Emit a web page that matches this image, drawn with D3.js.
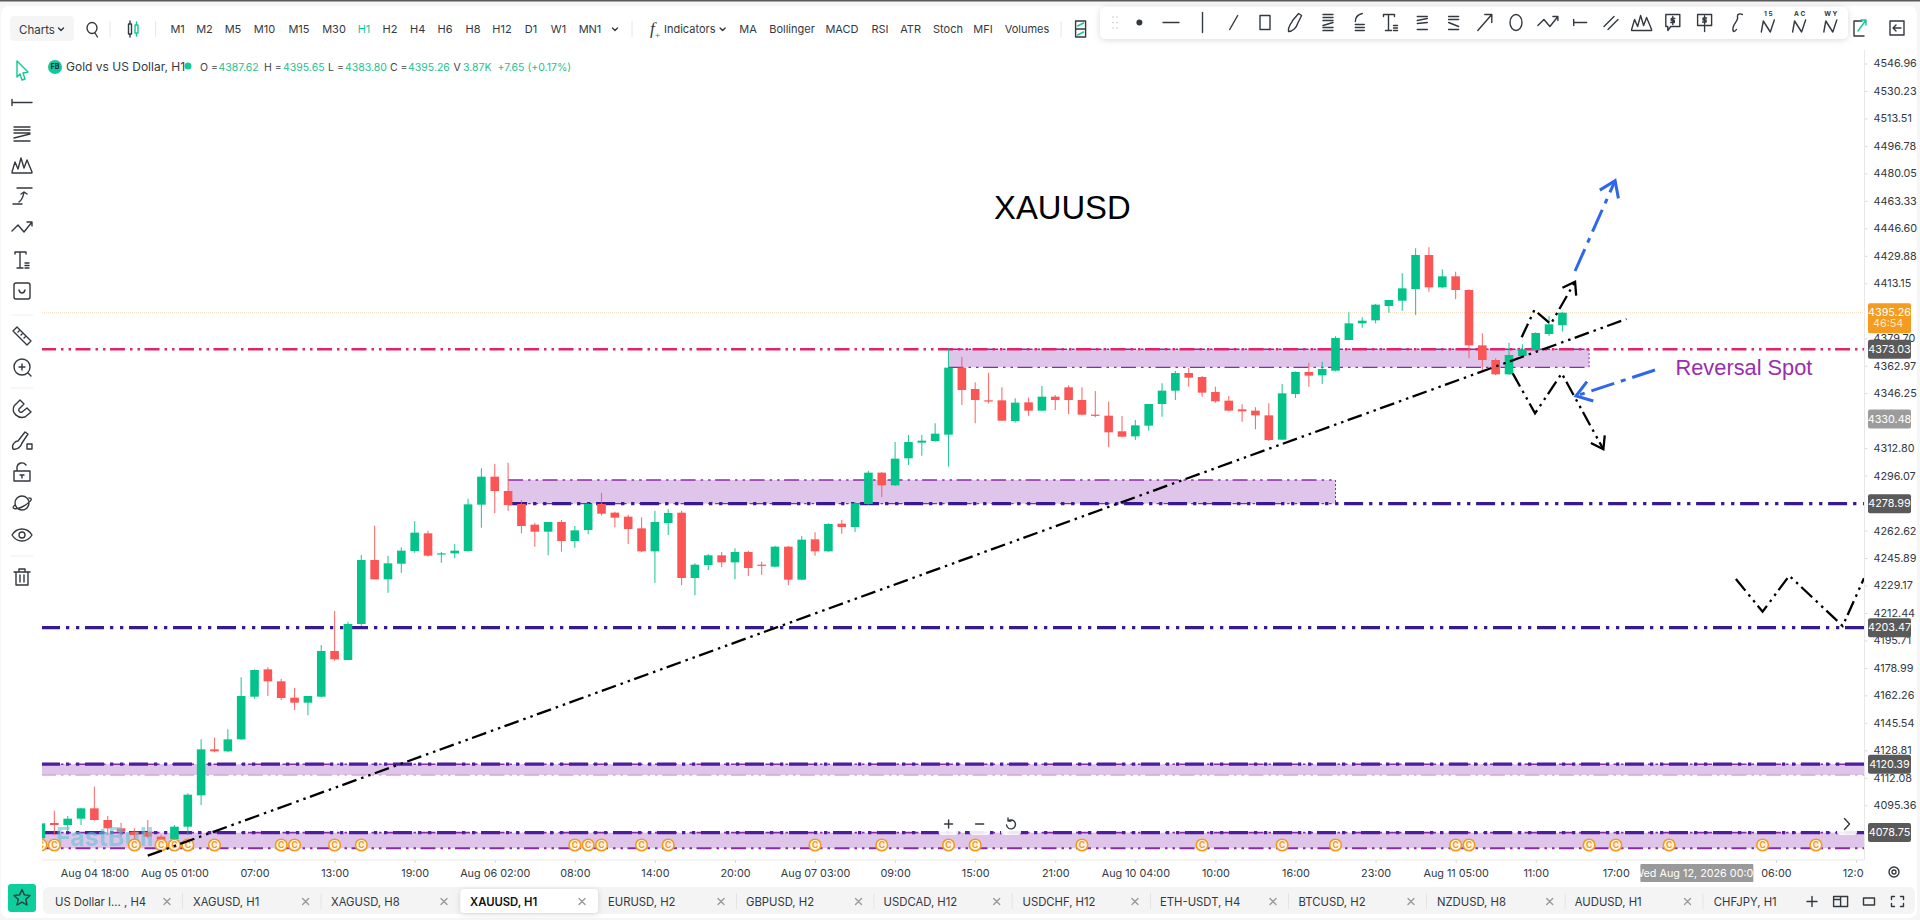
<!DOCTYPE html>
<html>
<head>
<meta charset="utf-8">
<title>XAUUSD H1</title>
<script src="https://cdn.jsdelivr.net/npm/d3@7"></script>
<style>
html, body { margin: 0; padding: 0; background: #fff; overflow: hidden; }
text { font-family: Inter, "Open Sans", sans-serif; }
.ui-icon { fill: none; stroke: #33393f; stroke-width: 1.4; stroke-linejoin: round; stroke-linecap: round; }
</style>
</head>
<body>
<svg id="chart" width="1920" height="920"></svg>
<script>
// --- CANDLES (hourly) ---
const candleOpen = [4075.25,4084.58,4083.37,4087.22,4093.51,4086.41,4081.34,4079.31,4079.10,4076.26,
4074.84,4082.35,4101.43,4129.43,4128.21,4135.52,4161.49,4178.13,4170.83,4160.89,
4157.84,4161.49,4189.30,4183.82,4205.73,4244.70,4232.93,4242.46,4250.17,4260.93,
4248.35,4248.75,4250.17,4278.38,4295.43,4286.70,4278.79,4266.21,4261.94,4267.83,
4256.26,4262.96,4278.79,4273.51,4271.08,4263.97,4249.97,4267.22,4273.51,4233.74,
4241.65,4247.54,4243.27,4249.57,4241.85,4240.64,4252.81,4232.72,4257.28,4249.97,
4266.81,4264.79,4278.79,4297.86,4290.15,4306.59,4316.13,4317.14,4321.00,4361.79,
4348.80,4341.90,4341.90,4329.32,4340.68,4335.61,4344.13,4349.81,4342.10,4333.17,
4332.56,4323.03,4319.98,4326.48,4339.67,4347.78,4358.54,4356.10,4346.97,4341.70,
4336.42,4335.61,4332.77,4317.95,4345.76,4359.15,4357.12,4359.96,4378.63,4388.77,
4390.60,4399.33,4402.57,4409.68,4430.37,4410.69,4417.39,4409.07,4375.38,4366.45,
4357.73,4368.89,4372.54,4382.28,4387.62];
const candleHigh = [4084.38,4092.09,4088.85,4093.92,4106.70,4088.85,4084.79,4081.34,4086.41,4077.28,
4083.37,4102.64,4135.52,4136.53,4141.61,4173.26,4178.13,4179.35,4172.45,4166.77,
4161.90,4192.95,4213.65,4207.15,4247.74,4265.60,4247.33,4252.41,4268.24,4262.55,
4249.57,4254.44,4282.03,4300.50,4303.14,4303.95,4281.22,4267.42,4267.83,4269.05,
4265.39,4279.60,4285.69,4274.12,4272.29,4270.67,4274.73,4275.54,4274.73,4242.67,
4248.35,4249.57,4251.80,4250.38,4243.68,4253.42,4253.22,4259.31,4261.54,4267.02,
4269.05,4280.01,4299.08,4298.27,4316.53,4320.79,4320.79,4327.90,4373.56,4368.48,
4352.86,4358.74,4349.81,4343.12,4343.52,4350.63,4345.15,4351.03,4349.81,4347.58,
4341.09,4332.36,4329.93,4339.67,4352.25,4359.76,4361.79,4356.71,4350.22,4344.54,
4339.46,4337.64,4340.07,4351.84,4359.55,4364.83,4365.44,4381.00,4395.47,4392.43,
4400.54,4402.98,4419.21,4434.43,4435.04,4421.65,4420.23,4409.47,4382.69,4367.47,
4377.00,4375.99,4383.30,4393.24,4395.65];
const candleLow = [4075.25,4077.28,4079.31,4083.37,4086.00,4077.28,4076.26,4074.23,4075.25,4071.19,
4074.23,4077.28,4095.54,4127.60,4127.81,4135.11,4160.28,4161.90,4159.46,4153.38,
4150.13,4161.09,4183.41,4183.61,4204.52,4232.93,4224.81,4236.98,4249.16,4246.72,
4243.07,4245.71,4249.77,4264.38,4273.11,4274.73,4260.93,4252.81,4247.54,4249.77,
4252.20,4260.32,4271.68,4264.58,4254.44,4249.36,4230.90,4259.91,4229.27,4223.18,
4238.61,4240.43,4232.93,4234.95,4235.77,4240.23,4229.27,4232.32,4247.33,4249.77,
4260.73,4261.74,4278.38,4282.85,4289.75,4302.53,4308.21,4316.74,4301.52,4339.06,
4327.90,4340.07,4329.32,4328.30,4332.56,4335.41,4336.01,4333.58,4332.77,4331.55,
4313.29,4319.37,4317.75,4323.43,4331.96,4342.10,4350.22,4344.13,4340.48,4335.41,
4328.91,4324.24,4317.14,4317.75,4343.32,4350.22,4351.84,4359.50,4378.42,4386.14,
4388.77,4395.27,4396.49,4393.85,4408.05,4410.08,4403.39,4367.47,4359.35,4357.12,
4357.32,4368.48,4372.13,4381.06,4383.80];
const candleClose = [4084.38,4083.37,4087.22,4093.51,4086.41,4081.34,4079.31,4077.28,4076.26,4073.22,
4082.35,4101.83,4129.43,4128.21,4135.52,4161.90,4177.73,4170.83,4160.68,4157.84,
4161.90,4189.30,4184.22,4205.73,4244.70,4232.93,4242.67,4250.38,4261.34,4247.33,
4248.75,4250.38,4278.58,4295.43,4286.70,4278.18,4265.39,4261.94,4267.83,4256.26,
4262.76,4278.79,4272.90,4270.47,4263.57,4249.97,4267.83,4273.31,4233.74,4241.85,
4247.54,4243.27,4249.57,4239.82,4241.25,4252.81,4232.72,4257.07,4249.97,4266.61,
4264.79,4279.19,4297.86,4290.15,4306.39,4316.53,4317.35,4321.61,4361.79,4348.19,
4342.10,4341.29,4329.52,4340.48,4335.61,4344.13,4342.10,4342.10,4333.17,4332.56,
4322.42,4319.78,4326.68,4339.67,4347.78,4358.54,4355.70,4346.57,4341.29,4335.61,
4335.20,4332.77,4317.75,4346.16,4359.15,4356.92,4360.98,4379.85,4388.77,4390.40,
4400.14,4402.98,4410.08,4430.37,4410.69,4417.39,4409.07,4375.38,4366.45,4357.73,
4369.50,4372.95,4382.89,4388.17,4395.26];

// --- AXES ---
const priceTicks = [4546.96,4530.23,4513.51,4496.78,4480.05,4463.33,4446.60,4429.88,4413.15,4379.70,4362.97,4346.25,4312.80,
4296.07,4262.62,4245.89,4229.17,4212.44,4195.71,4178.99,4162.26,4145.54,4128.81,4112.08,4095.36];
const timeTickIndex = [4,10,16,22,28,34,40,46,52,58,64,70,76,82,88,94,100,106,112,118,130,136];
const timeTickLabels = ['Aug 04 18:00','Aug 05 01:00','07:00','13:00','19:00','Aug 06 02:00','08:00','14:00','20:00',
'Aug 07 03:00','09:00','15:00','21:00','Aug 10 04:00','10:00','16:00','23:00','Aug 11 05:00','11:00','17:00','06:00','12:00'];
const crosshairIndex = 124;

// --- LEVELS AND ZONES ---
const pinkLevel = 4373.03;
const navyLevels = [4278.99, 4203.47];
const zoneLevels = [4120.39, 4078.75];
const lastPrice = 4395.26;
const greyTag = 4330.48;
const darkTags = [4373.03, 4278.99, 4203.47, 4120.39, 4078.75];
const zoneStart = [68, 35, 0, 0];
const zoneEnd = [116, 97, 137, 137];
const zoneTop = [4373.03, 4293.40, 4120.39, 4078.75];
const zoneBottom = [4362.00, 4278.99, 4113.80, 4069.20];
const eventIndex = [0,1,7,9,10,11,13,18,19,22,24,40,41,42,45,47,58,63,68,70,78,87,93,97,106,107,116,118,122,129,133];

// --- DRAWINGS: [bar index, price] ---
const trendPoints = [[8,4064.7],[118.8,4391.4]];
const upZig = [[110.95,4380.25],[111.9,4396.89],[113.13,4388.37],[114.95,4414.14]];
const downZig = [[110.28,4358.33],[111.95,4333.98],[113.95,4358.33],[117.07,4312.07]];
const blueUp = [[114.95,4420.63],[117.95,4475.63]];
const blueLeft = [[120.94,4360.37],[115.02,4344.54]];
const lowZig = [[127,4233.13],[129,4213.22],[131,4235.14],[135,4204.52],[136.6,4233.56]];

// --- UI TEXT ---
const timeframes = ['M1','M2','M5','M10','M15','M30','H1','H2','H4','H6','H8','H12','D1','W1','MN1'];
const timeframeX = [177.6,204.5,233,264.5,299,334,364,390,417.6,445,473,502,531,558.5,590];
const studies = ['MA','Bollinger','MACD','RSI','ATR','Stoch','MFI','Volumes'];
const studyX = [748,792,842,880,910.6,948,983,1027];
const tabs = ['US Dollar I... , H4','XAGUSD, H1','XAGUSD, H8','XAUUSD, H1','EURUSD, H2','GBPUSD, H2','USDCAD, H12','USDCHF, H12','ETH-USDT, H4','BTCUSD, H2','NZDUSD, H8','AUDUSD, H1','CHFJPY, H1'];
const tabX = [55,193,331,470,608,746,883.6,1022.5,1160,1298.6,1437,1574.8,1713.8];
const tabCloseX = [167,305.6,444,582,721,858.5,996.7,1135,1273,1411,1549.7,1687.5];

// --- SETUP ---
const svg = d3.select('#chart');
const xScale = d3.scaleLinear().domain([0, 136]).range([41, 1856]);
const yScale = d3.scaleLinear().domain([4546.96, 4095.36]).range([63.5, 805.3]);
const plot = { left: 42, right: 1864, top: 46, bottom: 860 };
const green = '#05c28a', red = '#fb5656', navy = '#38198f', pink = '#e1246a', purple = '#8a2bab', zoneFill = '#e0c5ea';
const dashDotDot = '15,5,2.5,5,2.5,4.5';
const thickDash = '19,6,3.3,6.7,3.3,5.7';

const defs = svg.append('defs');
defs.append('clipPath').attr('id', 'plot-clip').append('rect')
    .attr('x', plot.left).attr('y', plot.top).attr('width', plot.right - plot.left).attr('height', plot.bottom - plot.top);
const shadow = defs.append('filter').attr('id', 'soft').attr('x', '-5%').attr('y', '-30%').attr('width', '110%').attr('height', '170%');
shadow.append('feDropShadow').attr('dx', 0).attr('dy', 1).attr('stdDeviation', 3).attr('flood-color', '#000').attr('flood-opacity', 0.15);

function label(g, x, y, str, size, color, anchor, weight) {
    return g.append('text').attr('x', x).attr('y', y).attr('dy', '0.35em').text(str)
        .attr('font-size', size).attr('fill', color || '#33393f').attr('text-anchor', anchor || 'start').attr('font-weight', weight || 400);
}
function icon(g, x, y, d, color) {
    return g.append('path').attr('class', 'ui-icon').attr('transform', `translate(${x},${y})`).attr('d', d).style('stroke', color || null);
}

// --- PAGE FRAME ---
svg.append('rect').attr('width', 1920).attr('height', 920).attr('fill', '#f6f6f6');
svg.append('rect').attr('width', 1920).attr('height', 1.5).attr('fill', '#5a5a5a');
svg.append('rect').attr('x', 1).attr('y', 6).attr('width', 1916).attr('height', 912).attr('rx', 8).attr('fill', '#fff');

// --- PLOT ---
const plotArea = svg.append('g').attr('clip-path', 'url(#plot-clip)');
const priceLine = d3.line().x(d => xScale(d[0])).y(d => yScale(d[1]));

plotArea.append('line').attr('x1', plot.left).attr('x2', plot.right).attr('y1', yScale(lastPrice)).attr('y2', yScale(lastPrice))
    .attr('stroke', '#fbdcc0').attr('stroke-width', 1).attr('stroke-dasharray', '1,1');

zoneStart.forEach((s, i) => {
    const x0 = xScale(s), x1 = xScale(zoneEnd[i]);
    const y0 = yScale(zoneTop[i]), y1 = yScale(zoneBottom[i]);
    plotArea.append('rect').attr('x', x0).attr('y', y0).attr('width', x1 - x0).attr('height', y1 - y0).attr('fill', zoneFill);
    plotArea.append('line').attr('x1', x1).attr('x2', x1).attr('y1', y0).attr('y2', y1).attr('stroke', purple).attr('stroke-width', 1).attr('stroke-dasharray', '2,2');
    plotArea.append('line').attr('x1', x0).attr('x2', x1).attr('y1', y0).attr('y2', y0).attr('stroke', purple).attr('stroke-width', 1.6).attr('stroke-dasharray', dashDotDot);
    plotArea.append('line').attr('x1', x0).attr('x2', x1).attr('y1', y1).attr('y2', y1)
        .attr('stroke', i === 2 ? '#cfa9e0' : purple).attr('stroke-width', i === 3 ? 2 : 1.3).attr('stroke-dasharray', dashDotDot);
});

function level(price, start, color, width, dash) {
    plotArea.append('line').attr('x1', xScale(start)).attr('x2', plot.right).attr('y1', yScale(price)).attr('y2', yScale(price))
        .attr('stroke', color).attr('stroke-width', width).attr('stroke-dasharray', dash);
}
level(navyLevels[0], 35, navy, 3.2, thickDash);
level(navyLevels[1], 0, navy, 3.2, thickDash);
zoneLevels.forEach(p => level(p, 0, '#4c1d9c', 3.2, thickDash));
level(pinkLevel, 0, pink, 2.6, dashDotDot);

// candles
const candles = candleOpen.map((o, i) => ({ i, o, h: candleHigh[i], l: candleLow[i], c: candleClose[i] }));
const candleG = plotArea.append('g').selectAll('g').data(candles).join('g');
candleG.append('line').attr('x1', d => xScale(d.i)).attr('x2', d => xScale(d.i))
    .attr('y1', d => yScale(d.h)).attr('y2', d => yScale(d.l))
    .attr('stroke', d => d.c >= d.o ? green : red).attr('stroke-width', 1.1).attr('opacity', 0.85);
candleG.append('rect').attr('x', d => xScale(d.i) - 4.3).attr('width', 8.6)
    .attr('y', d => yScale(Math.max(d.o, d.c)))
    .attr('height', d => Math.max(1.2, Math.abs(yScale(d.o) - yScale(d.c))))
    .attr('fill', d => d.c >= d.o ? green : red);

// watermark
plotArea.append('text').attr('x', 56).attr('y', 846).text('FastBull')
    .attr('font-size', 25).attr('font-weight', 700).attr('fill', '#5fc6d6').attr('opacity', 0.6);

// event markers
const events = plotArea.append('g').selectAll('g').data(eventIndex).join('g')
    .attr('transform', d => `translate(${xScale(d)},845)`);
events.append('circle').attr('r', 5.8).attr('fill', '#fff6e6').attr('stroke', '#f29a1f').attr('stroke-width', 1.6);
events.append('text').text('C').attr('text-anchor', 'middle').attr('dy', '0.36em').attr('font-size', 8.5).attr('font-weight', 700).attr('fill', '#f29a1f');

// drawings
function drawing(points, color, width, dash) {
    plotArea.append('path').attr('d', priceLine(points)).attr('fill', 'none')
        .attr('stroke', color).attr('stroke-width', width).attr('stroke-dasharray', dash);
}
function arrowHead(points, color, width, len) {
    const a = points[points.length - 2], b = points[points.length - 1];
    const bx = xScale(b[0]), by = yScale(b[1]);
    const ang = Math.atan2(by - yScale(a[1]), bx - xScale(a[0]));
    const barb = s => [bx - len * Math.cos(ang + s), by - len * Math.sin(ang + s)];
    const p1 = barb(0.6), p2 = barb(-0.6);
    plotArea.append('path').attr('d', `M${p1[0]},${p1[1]} L${bx},${by} L${p2[0]},${p2[1]}`)
        .attr('fill', 'none').attr('stroke', color).attr('stroke-width', width);
}
drawing(trendPoints, '#000', 2.3, dashDotDot);
[upZig, downZig].forEach(z => { drawing(z, '#000', 2.3, dashDotDot); arrowHead(z, '#000', 2.3, 14); });
drawing(lowZig, '#000', 2.3, dashDotDot);
[blueUp, blueLeft].forEach(z => { drawing(z, '#2f66ee', 3, '24,7,5,7'); arrowHead(z, '#2f66ee', 3, 18); });

// annotations
svg.append('text').attr('x', 994).attr('y', 219).text('XAUUSD')
    .style('font-family', '"Liberation Sans", Arial, sans-serif').attr('font-size', 32.8).attr('fill', '#000');
svg.append('text').attr('x', 1675.5).attr('y', 375).text('Reversal Spot')
    .style('font-family', '"Liberation Sans", Arial, sans-serif').attr('font-size', 21.8).attr('fill', '#9a2db0');

// --- PRICE AXIS ---
const priceAxis = svg.append('g').attr('transform', `translate(${plot.right + 0.5},0)`)
    .call(d3.axisRight(yScale).tickValues(priceTicks).tickFormat(d3.format('.2f')).tickSize(3).tickPadding(6));
priceAxis.select('.domain').remove();
priceAxis.selectAll('line').attr('stroke', '#d8d8d8');
priceAxis.selectAll('text').attr('font-size', 10.8).attr('fill', '#33393f').style('font-family', 'Inter, sans-serif');
svg.append('line').attr('x1', plot.right + 0.5).attr('x2', plot.right + 0.5).attr('y1', 50).attr('y2', plot.bottom).attr('stroke', '#e8e8e8');

function priceTag(price, fill) {
    const y = yScale(price);
    svg.append('rect').attr('x', 1868).attr('y', y - 9.5).attr('width', 43).attr('height', 19).attr('rx', 2).attr('fill', fill);
    label(svg, 1889.5, y, d3.format('.2f')(price), 10.8, '#fff', 'middle');
}
darkTags.forEach(p => priceTag(p, '#5a5a5a'));
priceTag(greyTag, '#9c9c9c');
const lastY = yScale(lastPrice);
svg.append('rect').attr('x', 1868).attr('y', lastY - 9.5).attr('width', 43).attr('height', 30).attr('rx', 2).attr('fill', '#f39c1f');
label(svg, 1889.5, lastY, d3.format('.2f')(lastPrice), 10.8, '#fff', 'middle');
label(svg, 1873, lastY + 11, '46:54', 10.8, '#ffe9c4');

// --- TIME AXIS ---
const timeAxis = svg.append('g').attr('transform', `translate(0,${plot.bottom})`);
timeAxis.call(d3.axisBottom(xScale).tickValues(timeTickIndex).tickFormat((d, i) => timeTickLabels[i]).tickSize(3).tickPadding(6));
timeAxis.select('.domain').remove();
timeAxis.selectAll('line').attr('stroke', '#d8d8d8');
timeAxis.selectAll('text').attr('font-size', 10.8).attr('fill', '#33393f').style('font-family', 'Inter, sans-serif');
svg.append('line').attr('x1', plot.left).attr('x2', plot.right).attr('y1', plot.bottom).attr('y2', plot.bottom).attr('stroke', '#e8e8e8');
// last label is cut by the price axis
svg.append('rect').attr('x', plot.right).attr('y', 862).attr('width', 14).attr('height', 20).attr('fill', '#fff');
svg.append('rect').attr('x', xScale(crosshairIndex) - 55.5).attr('y', 864).attr('width', 113).attr('height', 18).attr('rx', 1).attr('fill', '#999');
label(svg, xScale(crosshairIndex) + 1, 873, 'Wed Aug 12, 2026 00:00', 10.8, '#fff', 'middle');

// --- TOP TOOLBAR ---
const topBar = svg.append('g');
topBar.append('rect').attr('x', 10).attr('y', 16).attr('width', 64).attr('height', 25).attr('rx', 4).attr('fill', '#f5f5f5');
label(topBar, 19, 29.5, 'Charts', 11.5);
icon(topBar, 61, 29, 'M-2.5,-1 L0,1.5 L2.5,-1');
icon(topBar, 92, 29, 'M-5,-1 A5,5.5 0 1 1 5,-1 A5,5.5 0 1 1 -5,-1 M3,4 L5.5,8');
icon(topBar, 131, 29, 'M-2.5,-5H0.5V5H-2.5Z M-1,-8V-5 M-1,5V8');
icon(topBar, 136.5, 29, 'M-1.5,-4H1.5V4H-1.5Z M0,-7V-4 M0,4V7', '#10c79a');
[110, 155.6, 632, 1061].forEach(x => topBar.append('line').attr('x1', x).attr('x2', x).attr('y1', 21).attr('y2', 37).attr('stroke', '#e6e6e6'));
timeframes.forEach((t, i) => label(topBar, timeframeX[i], 29.5, t, 11, t === 'H1' ? '#10c79a' : '#33393f', 'middle'));
icon(topBar, 615, 29, 'M-2.5,-1 L0,1.5 L2.5,-1');
topBar.append('text').attr('x', 650).attr('y', 34).text('f').attr('font-size', 17).attr('font-style', 'italic').attr('fill', '#33393f').style('font-family', 'Liberation Serif, serif');
label(topBar, 654.5, 35, '+', 9, '#10c79a');
label(topBar, 664, 29.5, 'Indicators', 11);
icon(topBar, 722.6, 29, 'M-2.5,-1 L0,1.5 L2.5,-1');
studies.forEach((t, i) => label(topBar, studyX[i], 29.5, t, 11, '#33393f', 'middle'));
icon(topBar, 1080.6, 29, 'M-5,-8H5V8H-5Z M-5,0H5');
icon(topBar, 1080.6, 29, 'M-3,-3 L3,-6 M-3,6 L3,3', '#10c79a');

// --- DRAWING TOOLBAR ---
const icons = {
    dash: 'M-8,0H8',
    vline: 'M0,-10V10',
    diag: 'M-4,7 L4,-7',
    rect: 'M-5,-7H5V7H-5Z',
    brush: 'M-7,9 C-8,4 -4,1 -3,-2 L3,-9 L6,-7 L2,1 C1,5 -3,9 -7,9Z',
    lines: 'M-5,-8H5 M-5,-5H5 M-5,-2H5 M-5,8H5 M-5,5H5 M-5,3 L5,0',
    fib: 'M-4,2H5 M-4,5H5 M-4,8H5 M-4,-1 C-4,-6 -1,-8 3,-9',
    text: 'M-7,-8H4 M-7,-8V-6 M4,-8V-6 M-2,-8V8 M-5,8H1 M3,3H7 M3,5.5H7 M3,8H7',
    wedge: 'M-5,-6H5 M-5,-2 L5,-4 M-5,1 L5,0 M-5,7H5',
    wedge2: 'M-5,-6H5 M-5,-3H5 M-5,0 L5,4 M-5,7H5',
    arrow: 'M-7,8 L7,-8 M0,-8H7V0',
    circle: 'M-6,0 A6,8 0 1 1 6,0 A6,8 0 1 1 -6,0',
    poly: 'M-10,3 L-4,-3 L2,4 L10,-6 M5,-6H10V-2',
    hseg: 'M-6,-3V3 M-6,0H7',
    para: 'M-7,4 L3,-6 M-3,7 L7,-3',
    peaks: 'M-10,7 L-7,-3 L-4,4 L-1,-7 L2,3 L5,-5 L10,7 M-10,8H10',
    bubble: 'M-7,-8H7V4H-2 L-5,8 V4H-7Z M0,-6V2 M2,-4H-1.5V-2H1.5V0H-2',
    pin: 'M-7,-8H7V3H-7Z M0,3V9 M0,-6.5V1.5 M2,-4.5H-1.5V-2.5H1.5V-0.5H-2',
    curve: 'M-3,9 C-6,2 3,-1 1,-6 C1,-9 4,-9 6,-8 M-3,9 C-3,9 -1,9 0,7',
    wave: 'M-7,8 L-5,-3 L2,8 L6,-4',
    hline: 'M-10,-3V3 M-10,0H10',
    fork: 'M-8,-7H8 M-8,-4H8 M-8,-1H8 M-8,7H8 M-8,4 L8,0',
    move: 'M-9,8H0 M-5,-8H10 M-3,6 C0,4 1,2 2,-4 M-1,-2 L2,-4 L5,-2',
    smile: 'M-6,-8H6A2,2 0 0 1 8,-6V6A2,2 0 0 1 6,8H-6A2,2 0 0 1 -8,6V-6A2,2 0 0 1 -6,-8Z M-3,-1 C-2,3 2,3 3,-1',
    ruler: 'M-9,-5 L-5,-9 L9,5 L5,9Z M-4,-4 L-2,-6 M-1,-1 L1,-3 M2,2 L4,0',
    zoomIn: 'M-8,0 A8,8 0 1 1 8,0 A8,8 0 1 1 -8,0 M-3,0H3 M0,-3V3 M6,6 L9,9',
    magnet: 'M-2,-9 L-8,-3 C-11,4 -4,10 3,8 L9,3 L5,-1 L0,3 C-2,4 -4,2 -3,0 L2,-5 Z',
    paint: 'M-9,8 C-11,3 -6,0 -4,0 L3,-9 L6,-7 L0,2 C-1,6 -5,9 -9,8Z M5,3H10V8H5Z',
    lock: 'M-8,-1H8V9H-8Z M-5,-1V-5 A5,5 0 0 1 4,-7 M0,3V6 M-2,3H2',
    planet: 'M-7,0 A7,7 0 1 1 7,0 A7,7 0 1 1 -7,0 M-7,2 C-12,6 -6,7 0,4 C6,1 13,-5 7,-5',
    eye: 'M-10,0 C-5,-8 5,-8 10,0 C5,8 -5,8 -10,0Z M-3,0 A3,3 0 1 1 3,0 A3,3 0 1 1 -3,0',
    trash: 'M-8,-5H8 M-3,-5V-8H3V-5 M-6,-5V8H6V-5 M-2,-2V5 M2,-2V5',
    pointer: 'M-5,-9 L6,2 L1,3 L3,9 L0,10 L-2,4 L-5,7 Z'
};
const floatBar = svg.append('g');
floatBar.append('rect').attr('x', 1100).attr('y', 7).attr('width', 748).attr('height', 32).attr('rx', 6).attr('fill', '#fff').attr('filter', 'url(#soft)');
const floatTools = ['dash','vline','diag','rect','brush','lines','fib','text','wedge','wedge2','arrow','circle','poly','hseg','para','peaks','bubble','pin','curve'];
const floatX = [1171,1202.5,1233.7,1265,1295.6,1328,1359.3,1390.5,1422.3,1453.6,1484.8,1516,1547.9,1579.7,1611,1641.6,1672.8,1704.6,1736.4];
floatTools.forEach((k, i) => icon(floatBar, floatX[i], 22.5, icons[k]));
floatBar.append('circle').attr('cx', 1139.4).attr('cy', 22.5).attr('r', 3).attr('fill', '#33393f');
[[1113, 17], [1113, 22.5], [1113, 28], [1117, 17], [1117, 22.5], [1117, 28]].forEach(p =>
    floatBar.append('circle').attr('cx', p[0]).attr('cy', p[1]).attr('r', 0.7).attr('fill', '#bbb'));
['1 5', 'A C', 'W Y'].forEach((t, i) => {
    const x = [1768.3, 1799.6, 1830.8][i];
    icon(floatBar, x, 24, icons.wave);
    label(floatBar, x, 13.5, t, 6.5, '#33393f', 'middle', 700);
});
icon(svg, 1860, 28, 'M-6,-7H2 M-6,-7V8H4', '#33393f');
icon(svg, 1860, 28, 'M-2,3 L6,-8 M1,-8H6V-3', '#10c79a');
icon(svg, 1897, 28, 'M-7,-7H7V7H-7Z M4,0H-3 M-1,-3 L-4,0 L-1,3');

// --- LEFT TOOLBAR ---
const leftBar = svg.append('g');
const leftTools = ['hline','fork','peaks','move','poly','text','smile','ruler','zoomIn','magnet','paint','lock','planet','eye','trash'];
const leftY = [102.5,134,165,196,228,260,291,336,367,409,441,472,503,535,577];
icon(leftBar, 22, 70, icons.pointer, '#10c79a');
leftTools.forEach((k, i) => icon(leftBar, 22, leftY[i], icons[k]));
[315, 388, 556].forEach(y => leftBar.append('line').attr('x1', 11).attr('x2', 33).attr('y1', y).attr('y2', y).attr('stroke', '#eee'));

// --- LEGEND ---
const legend = svg.append('g');
const mid = 67;
legend.append('circle').attr('cx', 55).attr('cy', mid).attr('r', 7).attr('fill', '#12c99b');
label(legend, 55, mid, 'FB', 7, '#123', 'middle', 700);
label(legend, 66, mid, 'Gold vs US Dollar, H1', 12);
legend.append('circle').attr('cx', 188).attr('cy', mid - 1).attr('r', 3.5).attr('fill', '#12c99b');
const legendKeys = ['O =','H =','L =','C =','V'];
const legendKeyX = [200,264,328,390,453.5];
const legendVals = ['4387.62','4395.65','4383.80','4395.26','3.87K'];
const legendValX = [218.5,283,345,408,463];
legendKeys.forEach((k, i) => {
    label(legend, legendKeyX[i], mid, k, 10.5, '#444');
    label(legend, legendValX[i], mid, legendVals[i], 10.5, '#1fbf8f');
});
label(legend, 497.5, mid, '+7.65 (+0.17%)', 10.5, '#1fbf8f');

// --- ZOOM BUTTONS ---
const zoomBtn = svg.append('g');
[[948.6, 'M-4,0H4 M0,-4V4'], [979.6, 'M-4,0H4'], [1011, 'M-3,-3 A4.5,4.5 0 1 1 -4.5,1 M-3,-6V-3H0'], [1847, 'M-2.5,-5.5 L2.5,0 L-2.5,5.5']].forEach(b => {
    zoomBtn.append('rect').attr('x', b[0] - 10).attr('y', 813).attr('width', 20).attr('height', 22).attr('rx', 3).attr('fill', '#fff').attr('fill-opacity', 0.9);
    icon(zoomBtn, b[0], 824, b[1]);
});
icon(svg, 1894, 872, 'M-5,0 A5,5 0 1 1 5,0 A5,5 0 1 1 -5,0 M-2,0 A2,2 0 1 1 2,0 A2,2 0 1 1 -2,0');

// --- TABS ---
const tabBar = svg.append('g');
tabBar.append('rect').attr('x', 8).attr('y', 884).attr('width', 28).attr('height', 28).attr('rx', 3).attr('fill', '#0ccf9c');
icon(tabBar, 22, 897.5, 'M0,-8 L2.4,-2.6 L8,-2 L3.8,1.8 L5,7.5 L0,4.6 L-5,7.5 L-3.8,1.8 L-8,-2 L-2.4,-2.6Z');
tabBar.append('rect').attr('x', 43).attr('y', 887).attr('width', 1872).attr('height', 27).attr('rx', 6).attr('fill', '#f4f4f5');
tabBar.append('rect').attr('x', 460.5).attr('y', 889).attr('width', 137.5).attr('height', 24).attr('rx', 4).attr('fill', '#fff').attr('filter', 'url(#soft)');
tabs.forEach((t, i) => label(tabBar, tabX[i], 901.7, t, 11.3, t === 'XAUUSD, H1' ? '#111' : '#33393f', 'start', t === 'XAUUSD, H1' ? 600 : 400));
tabCloseX.forEach(x => icon(tabBar, x, 901.5, 'M-3,-3 L3,3 M3,-3 L-3,3', '#9a9a9a'));
tabCloseX.forEach((x, i) => { if (i !== 2 && i !== 3)
    tabBar.append('line').attr('x1', x + 15.5).attr('x2', x + 15.5).attr('y1', 893).attr('y2', 909).attr('stroke', '#e4e4e4'); });
icon(tabBar, 1812, 901.5, 'M-5,0H5 M0,-5V5');
icon(tabBar, 1840.6, 901.5, 'M-7,-5H7V5H-7Z M0,-5V5 M-7,-2H0');
icon(tabBar, 1869, 901.5, 'M-5.5,-3.5H5.5V3.5H-5.5Z');
icon(tabBar, 1897.5, 901.5, 'M-6,-2V-5H-3 M3,-5H6V-2 M6,2V5H3 M-3,5H-6V2');
</script>
</body>
</html>
